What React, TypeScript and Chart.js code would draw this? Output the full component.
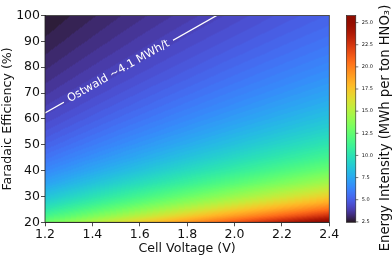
import React, { useEffect, useRef } from 'react';
import { Chart, registerables } from 'chart.js';

Chart.register(...registerables);

// ---- data ----
const cellVoltage = [1.2, 1.4, 1.6, 1.8, 2.0, 2.2, 2.4];
const faradaicEfficiency = [20, 22.5, 25, 27.5, 30, 35, 40, 45, 50, 55, 60, 65, 70, 75, 80, 85, 90, 95, 100];

// Energy intensity (MWh per ton HNO3): one row per faradaic efficiency, one column per voltage
const eiFE20 = [12.78, 14.91, 17.04, 19.17, 21.3, 23.43, 25.56];
const eiFE22_5 = [11.36, 13.25, 15.15, 17.04, 18.93, 20.83, 22.72];
const eiFE25 = [10.22, 11.93, 13.63, 15.34, 17.04, 18.74, 20.45];
const eiFE27_5 = [9.29, 10.84, 12.39, 13.94, 15.49, 17.04, 18.59];
const eiFE30 = [8.52, 9.94, 11.36, 12.78, 14.2, 15.62, 17.04];
const eiFE35 = [7.3, 8.52, 9.74, 10.95, 12.17, 13.39, 14.61];
const eiFE40 = [6.39, 7.46, 8.52, 9.59, 10.65, 11.72, 12.78];
const eiFE45 = [5.68, 6.63, 7.57, 8.52, 9.47, 10.41, 11.36];
const eiFE50 = [5.11, 5.96, 6.82, 7.67, 8.52, 9.37, 10.22];
const eiFE55 = [4.65, 5.42, 6.2, 6.97, 7.75, 8.52, 9.29];
const eiFE60 = [4.26, 4.97, 5.68, 6.39, 7.1, 7.81, 8.52];
const eiFE65 = [3.93, 4.59, 5.24, 5.9, 6.55, 7.21, 7.86];
const eiFE70 = [3.65, 4.26, 4.87, 5.48, 6.09, 6.69, 7.3];
const eiFE75 = [3.41, 3.98, 4.54, 5.11, 5.68, 6.25, 6.82];
const eiFE80 = [3.2, 3.73, 4.26, 4.79, 5.33, 5.86, 6.39];
const eiFE85 = [3.01, 3.51, 4.01, 4.51, 5.01, 5.51, 6.01];
const eiFE90 = [2.84, 3.31, 3.79, 4.26, 4.73, 5.21, 5.68];
const eiFE95 = [2.69, 3.14, 3.59, 4.04, 4.48, 4.93, 5.38];
const eiFE100 = [2.56, 2.98, 3.41, 3.83, 4.26, 4.69, 5.11];

const energyIntensity = [
  eiFE20, eiFE22_5, eiFE25, eiFE27_5, eiFE30, eiFE35, eiFE40, eiFE45, eiFE50, eiFE55,
  eiFE60, eiFE65, eiFE70, eiFE75, eiFE80, eiFE85, eiFE90, eiFE95, eiFE100,
];

// Ostwald benchmark contour (~4.1 MWh/t)
const ostwaldVoltage = [1.2, 1.925];
const ostwaldEfficiency = [62.3, 100];
const ostwaldLabel = 'Ostwald ~4.1 MWh/t';
const ostwaldLabelVoltage = 1.51;

// axes / ticks
const voltageTicks = [1.2, 1.4, 1.6, 1.8, 2.0, 2.2, 2.4];
const efficiencyTicks = [20, 30, 40, 50, 60, 70, 80, 90, 100];
const colorbarTicks = [2.5, 5.0, 7.5, 10.0, 12.5, 15.0, 17.5, 20.0, 22.5, 25.0];
const colorbarMin = 2.45;
const colorbarMax = 25.8;
const contourLevels = 100;

const FONT = '"DejaVu Sans", sans-serif';
const INK = '#111';

function turboRGB(t: number): number[] {
  t = Math.min(1, Math.max(0, t));
  const t2 = t * t, t3 = t2 * t, t4 = t3 * t, t5 = t4 * t;
  const r = 0.13572138 + 4.6153926 * t - 42.66032258 * t2 + 132.13108234 * t3 - 152.94239396 * t4 + 59.28637943 * t5;
  const g = 0.09140261 + 2.19418839 * t + 4.84296658 * t2 - 14.18503333 * t3 + 4.27729857 * t4 + 2.82956604 * t5;
  const b = 0.1066733 + 12.64194608 * t - 60.58204836 * t2 + 110.36276771 * t3 - 89.90310912 * t4 + 27.34824973 * t5;
  const c = (v: number) => Math.round(Math.min(1, Math.max(0, v)) * 255);
  return [c(r), c(g), c(b)];
}

function turbo(t: number): string {
  return turboRGB(t).join(',');
}

function findIndex(arr: number[], v: number): number {
  for (let i = 0; i < arr.length - 1; i++) {
    if (v <= arr[i + 1]) return i;
  }
  return arr.length - 2;
}

function sampleEnergy(v: number, fe: number): number {
  const i = findIndex(cellVoltage, v);
  const j = findIndex(faradaicEfficiency, fe);
  const tx = Math.min(1, Math.max(0, (v - cellVoltage[i]) / (cellVoltage[i + 1] - cellVoltage[i])));
  const ty = Math.min(1, Math.max(0, (fe - faradaicEfficiency[j]) / (faradaicEfficiency[j + 1] - faradaicEfficiency[j])));
  const a = energyIntensity[j][i], b = energyIntensity[j][i + 1];
  const c = energyIntensity[j + 1][i], d = energyIntensity[j + 1][i + 1];
  return (a * (1 - tx) + b * tx) * (1 - ty) + (c * (1 - tx) + d * tx) * ty;
}

const heatmapPlugin = {
  id: 'heatmap',
  beforeDatasetsDraw(chart: any) {
    const { ctx, chartArea: a, scales } = chart;
    const xs = scales.x, ys = scales.y;
    let lo = Infinity, hi = -Infinity;
    for (const row of energyIntensity) for (const e of row) { lo = Math.min(lo, e); hi = Math.max(hi, e); }
    const step = (hi - lo) / contourLevels;
    const w = Math.ceil(a.right - a.left), h = Math.ceil(a.bottom - a.top);
    const off = document.createElement('canvas');
    off.width = w; off.height = h;
    const octx = off.getContext('2d')!;
    const img = octx.createImageData(w, h);
    for (let py = 0; py < h; py++) {
      const fe = ys.getValueForPixel(a.top + py + 0.5);
      for (let px = 0; px < w; px++) {
        const v = xs.getValueForPixel(a.left + px + 0.5);
        const raw = sampleEnergy(v, fe);
        const band = Math.min(contourLevels - 1, Math.max(0, Math.floor((raw - lo) / step)));
        const e = lo + (band + 0.5) * step;
        const [r, g, b] = turboRGB((e - colorbarMin) / (colorbarMax - colorbarMin));
        const k = (py * w + px) * 4;
        img.data[k] = r; img.data[k + 1] = g; img.data[k + 2] = b; img.data[k + 3] = 255;
      }
    }
    octx.putImageData(img, 0, 0);
    ctx.save();
    ctx.drawImage(off, a.left, a.top, a.right - a.left, a.bottom - a.top);
    ctx.restore();
  },
};

function labelGeometry(chart: any) {
  const { x, y } = chart.scales;
  const p0x = x.getPixelForValue(ostwaldVoltage[0]);
  const p0y = y.getPixelForValue(ostwaldEfficiency[0]);
  const p1x = x.getPixelForValue(ostwaldVoltage[1]);
  const p1y = y.getPixelForValue(ostwaldEfficiency[1]);
  const angle = Math.atan2(p1y - p0y, p1x - p0x);
  const t = (ostwaldLabelVoltage - ostwaldVoltage[0]) / (ostwaldVoltage[1] - ostwaldVoltage[0]);
  const cx = p0x + (p1x - p0x) * t;
  const cy = p0y + (p1y - p0y) * t;
  return { cx, cy, angle };
}

const LABEL_FONT = `11.2px ${FONT}`;

const contourLabelPlugin = {
  id: 'contourLabel',
  beforeDatasetDraw(chart: any) {
    const { ctx } = chart;
    const { cx, cy, angle } = labelGeometry(chart);
    ctx.save();
    ctx.font = LABEL_FONT;
    const tw = ctx.measureText(ostwaldLabel).width + 10;
    const th = 14;
    const cos = Math.cos(angle), sin = Math.sin(angle);
    const pts = [[-tw / 2, -th / 2], [tw / 2, -th / 2], [tw / 2, th / 2], [-tw / 2, th / 2]].map(([u, v]) => [cx + u * cos - v * sin, cy + u * sin + v * cos]);
    ctx.beginPath();
    ctx.rect(0, 0, chart.width, chart.height);
    ctx.moveTo(pts[0][0], pts[0][1]);
    for (let i = 1; i < 4; i++) ctx.lineTo(pts[i][0], pts[i][1]);
    ctx.closePath();
    ctx.clip('evenodd');
  },
  afterDatasetDraw(chart: any) {
    chart.ctx.restore();
  },
  afterDatasetsDraw(chart: any) {
    const { ctx } = chart;
    const { cx, cy, angle } = labelGeometry(chart);
    ctx.save();
    ctx.translate(cx, cy);
    ctx.rotate(angle);
    ctx.font = LABEL_FONT;
    ctx.fillStyle = '#ffffff';
    ctx.textAlign = 'center';
    ctx.textBaseline = 'middle';
    ctx.fillText(ostwaldLabel, 0, 0);
    ctx.restore();
  },
};

const framePlugin = {
  id: 'frameAndColorbar',
  afterDraw(chart: any) {
    const { ctx, chartArea: a, scales } = chart;
    const cb = scales.cb;
    ctx.save();
    // plot frame
    ctx.strokeStyle = '#222';
    ctx.lineWidth = 0.8;
    ctx.strokeRect(a.left, a.top, a.right - a.left, a.bottom - a.top);

    // colorbar
    const x0 = a.right + 17;
    const x1 = x0 + 9.5;
    const top = cb.getPixelForValue(colorbarMax);
    const bottom = cb.getPixelForValue(colorbarMin);
    for (let py = Math.floor(top); py < Math.ceil(bottom); py++) {
      const val = cb.getValueForPixel(py + 0.5);
      ctx.fillStyle = `rgb(${turbo((val - colorbarMin) / (colorbarMax - colorbarMin))})`;
      const y0 = Math.max(py, top), y1 = Math.min(py + 1, bottom);
      ctx.fillRect(x0, y0, x1 - x0, y1 - y0);
    }
    ctx.strokeStyle = '#222';
    ctx.lineWidth = 0.6;
    ctx.strokeRect(x0, top, x1 - x0, bottom - top);

    ctx.font = `5px ${FONT}`;
    ctx.fillStyle = INK;
    ctx.textAlign = 'left';
    ctx.textBaseline = 'middle';
    ctx.lineWidth = 0.6;
    for (const t of colorbarTicks) {
      const py = cb.getPixelForValue(t);
      ctx.beginPath();
      ctx.moveTo(x1, py);
      ctx.lineTo(x1 + 2.5, py);
      ctx.stroke();
      ctx.fillText(t.toFixed(1), x1 + 6, py);
    }

    // colorbar title
    ctx.translate(385.5, 128);
    ctx.rotate(-Math.PI / 2);
    ctx.font = `13.2px ${FONT}`;
    ctx.textAlign = 'center';
    ctx.textBaseline = 'middle';
    ctx.fillText('Energy Intensity (MWh per ton HNO\u2083)', 0, 0);
    ctx.restore();
  },
};

export default function App() {
  const ref = useRef<HTMLCanvasElement>(null);

  useEffect(() => {
    document.body.style.margin = '0';
    const canvas = ref.current!;
    const tickFont = { family: FONT, size: 12.5 };
    const titleFont = { family: FONT, size: 12.6 };
    const chart = new Chart(canvas, {
      type: 'scatter',
      data: {
        datasets: [
          {
            label: ostwaldLabel,
            data: ostwaldVoltage.map((v, i) => ({ x: v, y: ostwaldEfficiency[i] })),
            showLine: true,
            borderColor: '#ffffff',
            borderWidth: 1.4,
            pointRadius: 0,
            xAxisID: 'x',
            yAxisID: 'y',
          },
        ],
      },
      options: {
        responsive: false,
        animation: false,
        layout: { padding: { top: 15.5, right: 62.7, left: 0, bottom: 0 } },
        plugins: { legend: { display: false }, tooltip: { enabled: false } },
        scales: {
          x: {
            type: 'linear',
            min: 1.2,
            max: 2.4,
            afterBuildTicks: (s: any) => { s.ticks = voltageTicks.map((v) => ({ value: v })); },
            afterFit: (s: any) => { s.height = 33.7; },
            ticks: { font: tickFont, color: INK, padding: 1, maxRotation: 0, callback: (v: any) => Number(v).toFixed(1) },
            grid: { drawOnChartArea: false, tickLength: 4, color: '#222', lineWidth: 0.8 },
            border: { display: true, color: '#222', width: 0.8 },
            title: { display: true, text: 'Cell Voltage (V)', font: titleFont, color: INK, padding: { top: 0, bottom: 0 } },
          },
          y: {
            type: 'linear',
            min: 20,
            max: 100,
            afterBuildTicks: (s: any) => { s.ticks = efficiencyTicks.map((v) => ({ value: v })); },
            afterFit: (s: any) => { s.width = 45; },
            ticks: { font: tickFont, color: INK, padding: 1, callback: (v: any) => String(v) },
            grid: { drawOnChartArea: false, tickLength: 4, color: '#222', lineWidth: 0.8 },
            border: { display: true, color: '#222', width: 0.8 },
            title: { display: true, text: 'Faradaic Efficiency (%)', font: titleFont, color: INK, padding: { top: 0, bottom: 0 } },
          },
          cb: {
            type: 'linear',
            display: false,
            position: 'right',
            min: colorbarMin,
            max: colorbarMax,
          },
        },
      } as any,
      plugins: [heatmapPlugin, contourLabelPlugin, framePlugin],
    });
    return () => chart.destroy();
  }, []);

  return (
    <div style={{ position: 'fixed', left: 0, top: 0, width: 392, height: 256, background: '#fff' }}>
      <canvas ref={ref} width={392} height={256} style={{ display: 'block', width: 392, height: 256 }} />
    </div>
  );
}
